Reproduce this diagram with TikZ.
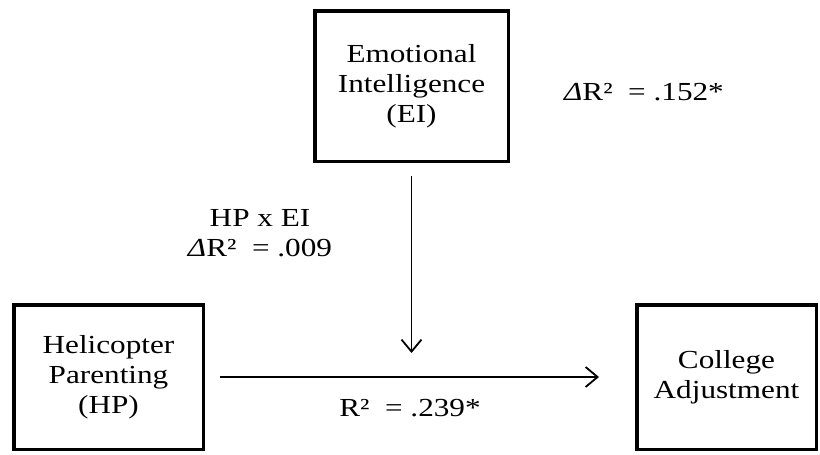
\documentclass[tikz,border=0pt]{standalone}
\usepackage{fontspec}
\setmainfont[FakeStretch=1.2]{Liberation Serif}
\usetikzlibrary{positioning, arrows.meta}

\begin{document}
\begin{tikzpicture}[x=1pt, y=-1pt,
      box/.style={draw, line width=3.5pt, align=center, inner sep=0pt, font=\fontsize{26}{30}\selectfont},
      lbl/.style={align=center, inner sep=0pt, font=\fontsize{26}{30}\selectfont},
      arr/.style={-{Straight Barb[length=12pt, width=20pt]}, line width=1.8pt}]
    \useasboundingbox (0,0) rectangle (820,455);
    \node[box, minimum width=193.5pt, minimum height=150.5pt] (ei) at (411.5,86) {Emotional\\Intelligence\\(EI)};
    \node[box, minimum width=189.5pt, minimum height=144.5pt] (hp) at (108.5,377) {Helicopter\\Parenting\\(HP)};
    \node[box, minimum width=179.5pt, minimum height=144.5pt] (ca) at (726.5,377) {College\\Adjustment};
    \coordinate (tip) at (411.5,353);
    \draw[arr, shorten <=13pt] (ei) -- (tip);
    \draw[arr, shorten <=15pt, shorten >=36pt] (hp) -- (ca);
    \node[lbl] (eff) at (644,92) {\textit{Δ}R²~ = .152*};
    \node[lbl] (inter) at (260,233) {HP x EI\\\textit{Δ}R²~ = .009};
    \node[lbl] (main) at (410,408) {R²~ = .239*};
  \end{tikzpicture}
\end{document}
